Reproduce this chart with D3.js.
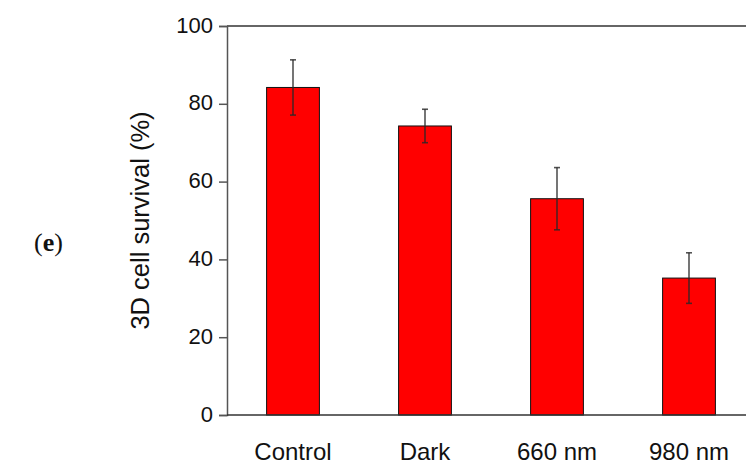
<!DOCTYPE html>
<html>
<head>
<meta charset="utf-8">
<script src="https://cdn.jsdelivr.net/npm/d3@7"></script>
<style>
  body { margin: 0; background: #fff; }
  text { font-family: "Liberation Sans", Arial, sans-serif; }
</style>
</head>
<body>
<div id="chart"></div>
<script>
const width = 746, height = 465;
const margin = { top: 26, right: 0, bottom: 50, left: 227 };

const categories = ["Control", "Dark", "660 nm", "980 nm"];
const survival = [84.2, 74.3, 55.6, 35.2];
const errors = [7.1, 4.3, 8.0, 6.5];
const yTicks = [0, 20, 40, 60, 80, 100];

const svg = d3.select("#chart")
  .append("svg")
  .attr("width", width)
  .attr("height", height);

const plotH = height - margin.top - margin.bottom;

const x = d3.scaleBand()
  .domain(categories)
  .range([margin.left, margin.left + 4 * 132])
  .paddingInner(0.6)
  .paddingOuter(0.3);

const y = d3.scaleLinear()
  .domain([0, 100])
  .range([margin.top + plotH, margin.top]);

// frame lines: top border runs to the right edge
svg.append("line")
  .attr("x1", margin.left).attr("x2", width)
  .attr("y1", y(100)).attr("y2", y(100))
  .attr("stroke", "#333").attr("stroke-width", 1.5);

// bars
svg.selectAll("rect.bar")
  .data(categories)
  .join("rect")
  .attr("class", "bar")
  .attr("x", d => x(d))
  .attr("y", (d, i) => y(survival[i]))
  .attr("width", x.bandwidth())
  .attr("height", (d, i) => y(0) - y(survival[i]))
  .attr("fill", "#ff0000")
  .attr("stroke", "#111")
  .attr("stroke-width", 1);

// error bars
const eb = svg.selectAll("g.err")
  .data(categories)
  .join("g")
  .attr("class", "err")
  .attr("stroke", "rgba(40,40,40,0.8)")
  .attr("stroke-width", 1.6);

eb.append("line")
  .attr("x1", d => x(d) + x.bandwidth() / 2)
  .attr("x2", d => x(d) + x.bandwidth() / 2)
  .attr("y1", (d, i) => y(survival[i] + errors[i]))
  .attr("y2", (d, i) => y(survival[i] - errors[i]));

[1, -1].forEach(s => {
  eb.append("line")
    .attr("x1", d => x(d) + x.bandwidth() / 2 - 3)
    .attr("x2", d => x(d) + x.bandwidth() / 2 + 3)
    .attr("y1", (d, i) => y(survival[i] + s * errors[i]))
    .attr("y2", (d, i) => y(survival[i] + s * errors[i]));
});

// y axis
const yAxis = svg.append("g")
  .attr("transform", `translate(${margin.left},0)`)
  .call(d3.axisLeft(y).tickValues(yTicks).tickSize(8).tickPadding(6));

yAxis.select(".domain").attr("stroke", "#555").attr("stroke-width", 1.5);
yAxis.selectAll(".tick line").attr("stroke", "#555").attr("stroke-width", 1.5);
yAxis.selectAll(".tick text")
  .style("font-size", "22px")
  .attr("fill", "#111")
  .attr("dy", "0.28em");

// baseline
svg.append("line")
  .attr("x1", margin.left).attr("x2", width)
  .attr("y1", y(0)).attr("y2", y(0))
  .attr("stroke", "#333").attr("stroke-width", 1.5);

// x labels
svg.selectAll("text.xlab")
  .data(categories)
  .join("text")
  .attr("class", "xlab")
  .attr("x", d => x(d) + x.bandwidth() / 2)
  .attr("y", 460)
  .attr("text-anchor", "middle")
  .style("font-size", "24px")
  .attr("fill", "#111")
  .text(d => d);

// y label
svg.append("text")
  .attr("transform", `translate(149,${(111 + 330) / 2}) rotate(-90)`)
  .attr("text-anchor", "middle")
  .style("font-size", "25.5px")
  .attr("fill", "#111")
  .text("3D cell survival (%)");

// panel letter
svg.append("text")
  .attr("x", 34)
  .attr("y", 251)
  .style("font-family", "'Liberation Serif', serif")
  .style("font-size", "26px")
  .attr("fill", "#111")
  .html('(<tspan style="font-weight:bold">e</tspan>)');
</script>
</body>
</html>
